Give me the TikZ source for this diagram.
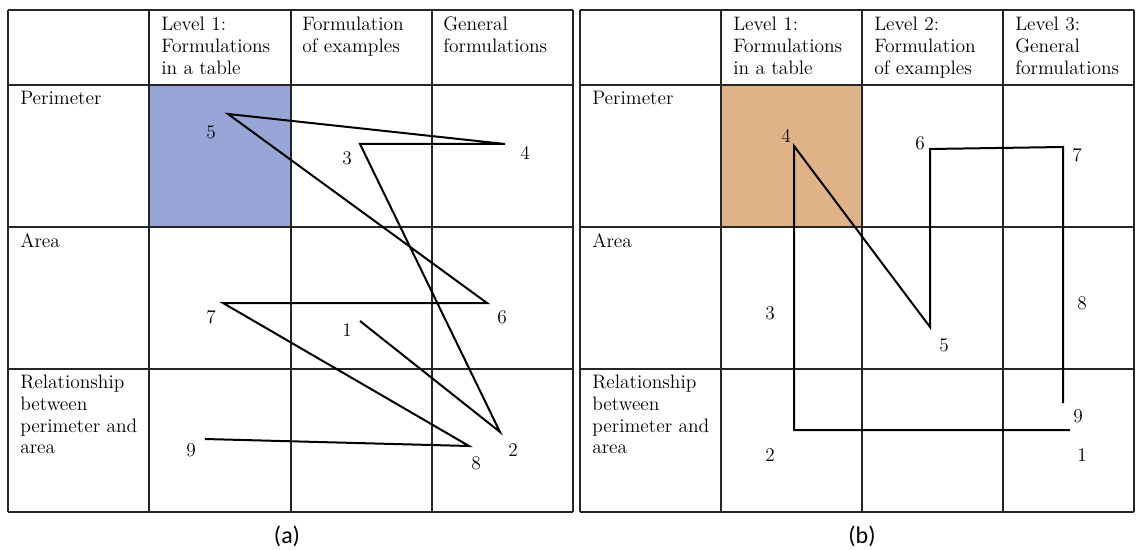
\documentclass[tikz,border=0pt]{standalone}
\usepackage{tikz}
\usetikzlibrary{positioning}
\usepackage{fontspec}
\newfontfamily\capfont{Carlito}
\definecolor{lightblue}{RGB}{151,166,214}
\definecolor{lighttan}{RGB}{223,178,136}

\begin{document}
\begin{tikzpicture}[
  x=0.75pt, y=-0.75pt,
  every node/.style={font=\fontsize{14.6}{16.3}\selectfont},
  grid/.style={draw=black!85,line width=0.8pt},
  route/.style={draw=black,line width=1.5pt,line join=miter},
  cell/.style={anchor=north west,align=left,inner sep=0pt},
  num/.style={inner sep=0pt,font=\fontsize{14.5}{16}\selectfont},
  caption/.style={font=\capfont\fontsize{18}{20}\selectfont},
]
  \useasboundingbox (0,0) rectangle (1137,549);

  % shaded cells
  \fill[lightblue] (149,85) rectangle (291,227);
  \fill[lighttan] (721,85) rectangle (862,227);

  % table (a)
  \foreach \xa in {8,149,291,432,573}
    \draw[grid] (\xa,10) -- (\xa,512);
  \foreach \ya in {10,85,227,369,512}
    \draw[grid] (8,\ya) -- (573,\ya);

  % table (b)
  \foreach \xb in {580,721,862,1003,1134}
    \draw[grid] (\xb,10) -- (\xb,512);
  \foreach \yb in {10,85,227,369,512}
    \draw[grid] (580,\yb) -- (1134,\yb);

  % headings (a)
  \node[cell] (ha1) at (161,17) {Level 1:\\Formulations\\in a table};
  \node[cell] (ha2) at (302,17) {Formulation\\of examples};
  \node[cell] (ha3) at (443,17) {General\\formulations};
  \node[cell] (ra1) at (20,91) {Perimeter};
  \node[cell] (ra2) at (20,233) {Area};
  \node[cell] (ra3) at (20,375) {Relationship\\between\\perimeter and\\area};

  % headings (b)
  \node[cell] (hb1) at (733,17) {Level 1:\\Formulations\\in a table};
  \node[cell] (hb2) at (874,17) {Level 2:\\Formulation\\of examples};
  \node[cell] (hb3) at (1015,17) {Level 3:\\General\\formulations};
  \node[cell] (rb1) at (592,91) {Perimeter};
  \node[cell] (rb2) at (592,233) {Area};
  \node[cell] (rb3) at (592,375) {Relationship\\between\\perimeter and\\area};

  % route (a)
  \coordinate (a1) at (360,321);
  \coordinate (a2) at (500,432);
  \coordinate (a3) at (360,144);
  \coordinate (a4) at (505,144);
  \coordinate (a5) at (228,114);
  \coordinate (a6) at (487,303);
  \coordinate (a7) at (223,303);
  \coordinate (a8) at (469,446);
  \coordinate (a9) at (205,439);
  \draw[route] (a1) -- (a2) -- (a3) -- (a4) -- (a5) -- (a6) -- (a7) -- (a8) -- (a9);

  \node[num] (la1) at (347,330) {1};
  \node[num] (la2) at (513,450) {2};
  \node[num] (la3) at (347,158) {3};
  \node[num] (la4) at (525,153) {4};
  \node[num] (la5) at (211,132) {5};
  \node[num] (la6) at (502,317) {6};
  \node[num] (la7) at (211,317) {7};
  \node[num] (la8) at (476,463) {8};
  \node[num] (la9) at (191,450) {9};

  % route (b)
  \coordinate (b1) at (1070,430);
  \coordinate (b2) at (794,430);
  \coordinate (b3) at (794,300);
  \coordinate (b4) at (794,146);
  \coordinate (b5) at (930,327);
  \coordinate (b6) at (930,149);
  \coordinate (b7) at (1063,147);
  \coordinate (b8) at (1063,300);
  \coordinate (b9) at (1063,403);
  \draw[route] (b1) -- (b2) -- (b3) -- (b4) -- (b5) -- (b6) -- (b7) -- (b8) -- (b9);

  \node[num] (lb1) at (1082,455) {1};
  \node[num] (lb2) at (770,455) {2};
  \node[num] (lb3) at (770,313) {3};
  \node[num] (lb4) at (786,136) {4};
  \node[num] (lb5) at (944,345) {5};
  \node[num] (lb6) at (920,143) {6};
  \node[num] (lb7) at (1077,155) {7};
  \node[num] (lb8) at (1082,303) {8};
  \node[num] (lb9) at (1078,416) {9};

  % captions
  \node[caption] (capa) at (287,536) {(a)};
  \node[caption] (capb) at (862,536) {(b)};
\end{tikzpicture}
\end{document}
